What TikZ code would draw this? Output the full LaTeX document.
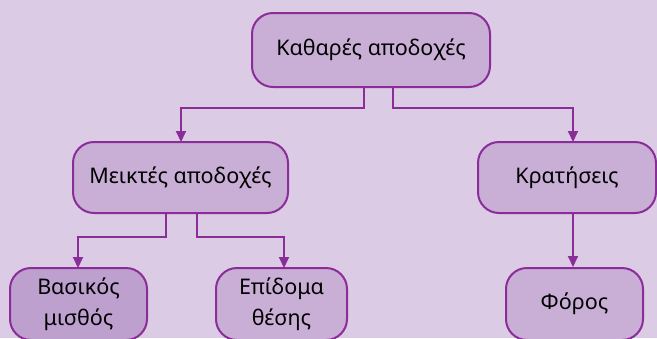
\documentclass[tikz,border=0pt]{standalone}
\usepackage{fontspec}
\setmainfont{Noto Sans}
\usetikzlibrary{arrows.meta}
\definecolor{bgcol}{HTML}{DCCBE5}
\definecolor{boxfill}{HTML}{C9AFD6}
\definecolor{boxfilldark}{HTML}{BEA0CF}
\definecolor{edgecol}{HTML}{8A2D98}
\tikzset{
  box/.style={draw=edgecol, line width=2pt, fill=boxfill, rounded corners=21pt,
    align=center, inner sep=0pt, font=\fontsize{21.5}{31}\selectfont},
  link/.style={draw=edgecol, line width=2pt, -{Triangle[length=11pt,width=10pt]}},
}
\begin{document}
\begin{tikzpicture}[x=1pt,y=-1pt]
  \path[fill=bgcol] (0,0) rectangle (657,338);
  \useasboundingbox (0,0) rectangle (657,338);
  \begin{scope}
    \clip (0,0) rectangle (657,338);
    % boxes, given by their corners
    \node[box, minimum width=238pt, minimum height=74pt] (net) at (371,50) {Καθαρές αποδοχές};
    \node[box, minimum width=215pt, minimum height=71pt] (gross) at (180.5,177.5) {Μεικτές αποδοχές};
    \node[box, minimum width=178pt, minimum height=71pt] (ded) at (567,177.5) {Κρατήσεις};
    \node[box, fill=boxfilldark, minimum width=137pt, minimum height=72pt] (base) at (78.5,304) {Βασικός\\μισθός};
    \node[box, minimum width=131pt, minimum height=72pt] (allow) at (281.5,304) {Επίδομα\\θέσης};
    \node[box, minimum width=137pt, minimum height=72pt] (tax) at (574.5,304) {Φόρος};
    % connectors
    \draw[link] ([xshift=-7pt]net.south) |- (181,108) -- (181,142);
    \draw[link] ([xshift=22pt]net.south) |- (573,108) -- (573,142);
    \draw[link] ([xshift=-14.5pt]gross.south) |- (78,237) -- (78,268);
    \draw[link] ([xshift=16.5pt]gross.south) |- (284,237) -- (284,268);
    \draw[link] (ded.south -| 573,0) -- (tax.north -| 573,0);
  \end{scope}
\end{tikzpicture}
\end{document}
